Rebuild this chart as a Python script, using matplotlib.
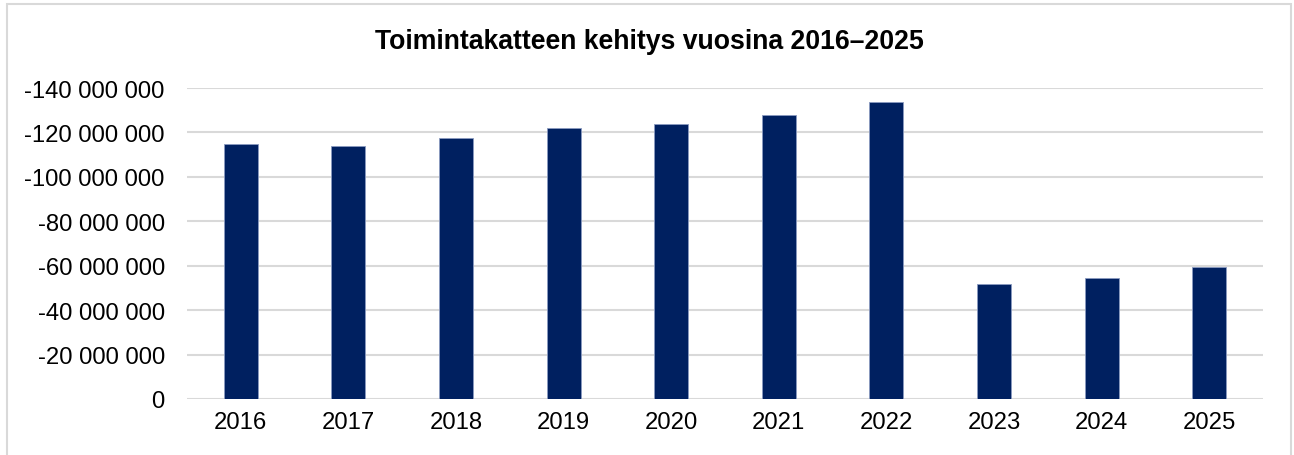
import matplotlib
matplotlib.use("Agg")
import matplotlib.pyplot as plt
from matplotlib.ticker import FuncFormatter, MultipleLocator
from matplotlib.patches import Rectangle

years = ["2016", "2017", "2018", "2019", "2020", "2021", "2022", "2023", "2024", "2025"]
values = [-114.6e6, -114.1e6, -117.3e6, -122.1e6, -123.6e6, -127.7e6, -133.8e6, -51.9e6, -54.6e6, -59.4e6]
title = "Toimintakatteen kehitys vuosina 2016–2025"

plt.rcParams['font.family'] = ['Liberation Sans', 'DejaVu Sans']

W, H = 1294, 456
fig = plt.figure(figsize=(W / 100, H / 100), dpi=100)
ax = fig.add_axes([187 / W, 1 - 400 / H, (1263 - 187) / W, (400 - 89) / H])

x = list(range(len(years)))
ax.bar(x, values, width=0.316, color="#002060", edgecolor="#8a9ac0", linewidth=0.6, zorder=3)
ax.set_xlim(-0.5, len(years) - 0.5)
ax.set_ylim(0, -140e6)
ax.yaxis.set_major_locator(MultipleLocator(20e6))

def fmt(v, pos):
    n = int(round(v))
    s = f"{abs(n):,}".replace(",", " ")
    return ("-" if n < 0 else "") + s

ax.yaxis.set_major_formatter(FuncFormatter(fmt))
ax.set_xticks(x)
ax.set_xticklabels(years)
ax.tick_params(axis="both", length=0, labelsize=17.2, colors="#000000")
ax.tick_params(axis="y", pad=16)
ax.tick_params(axis="x", pad=9)
ax.grid(axis="y", color="#d9d9d9", linewidth=1.5, zorder=0)
ax.set_axisbelow(True)
for s in ax.spines.values():
    s.set_visible(False)

fig.text(649 / W, 1 - 42 / H, title, ha="center", va="center", fontsize=19.2, fontweight="bold")

fig.patches.append(Rectangle((7 / W, -0.05), (1291 - 7) / W, 1.05 - 5 / H,
                             transform=fig.transFigure, fill=False,
                             edgecolor="#d9d9d9", linewidth=1.5))

fig.savefig("out.png", dpi=100, facecolor="white")
